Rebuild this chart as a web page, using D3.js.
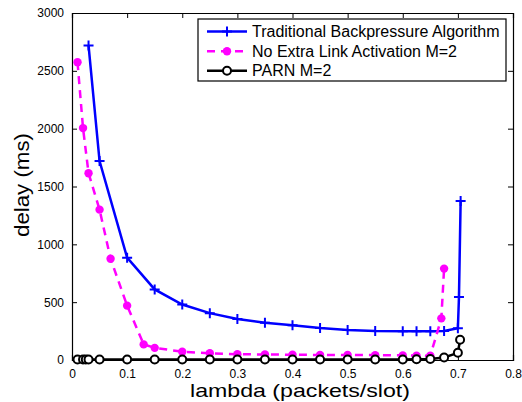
<!DOCTYPE html>
<html>
<head>
<meta charset="utf-8">
<script src="https://cdn.jsdelivr.net/npm/d3@7"></script>
<style>
  body { margin: 0; background: #fff; }
  svg { display: block; font-family: "Liberation Sans", Arial, sans-serif; }
</style>
</head>
<body>
<div id="chart"></div>
<script>
// delay vs lambda data
var tradLambda = [0.03, 0.05, 0.1, 0.15, 0.2, 0.25, 0.3, 0.35, 0.4, 0.45, 0.5, 0.55, 0.6, 0.625, 0.65, 0.675, 0.7, 0.702, 0.705];
var tradDelay  = [2720, 1720, 885, 610, 480, 405, 355, 323, 300, 277, 260, 250, 248, 248, 248, 250, 275, 545, 1375];

var noExtraLambda = [0.01, 0.02, 0.03, 0.05, 0.07, 0.1, 0.13, 0.15, 0.2, 0.25, 0.3, 0.35, 0.4, 0.45, 0.5, 0.55, 0.6, 0.625, 0.65, 0.67, 0.675];
var noExtraDelay  = [2575, 2005, 1615, 1300, 875, 470, 135, 105, 72, 58, 50, 48, 45, 44, 43, 42, 40, 38, 37, 360, 790];

var parnLambda = [0.01, 0.02, 0.025, 0.03, 0.05, 0.1, 0.15, 0.2, 0.25, 0.3, 0.35, 0.4, 0.45, 0.5, 0.55, 0.6, 0.625, 0.65, 0.675, 0.7, 0.704];
var parnDelay  = [5, 5, 5, 5, 5, 5, 5, 5, 5, 5, 5, 5, 5, 5, 5, 5, 6, 8, 22, 62, 175];

var seriesNames = ["Traditional Backpressure Algorithm", "No Extra Link Activation M=2", "PARN M=2"];
var xTicks = [0, 0.1, 0.2, 0.3, 0.4, 0.5, 0.6, 0.7, 0.8];
var yTicks = [0, 500, 1000, 1500, 2000, 2500, 3000];

var fullWidth = 522, fullHeight = 402;
var margin = {top: 13, right: 9, bottom: 42, left: 72};
var width = fullWidth - margin.left - margin.right;
var height = fullHeight - margin.top - margin.bottom;

var x = d3.scaleLinear().domain([0, 0.8]).range([0, width]);
var y = d3.scaleLinear().domain([0, 3000]).range([height, 0]);

var svg = d3.select("#chart").append("svg")
  .attr("width", fullWidth)
  .attr("height", fullHeight);

var g = svg.append("g")
  .attr("transform", "translate(" + margin.left + "," + margin.top + ")");

// axes, ticks pointing inward
var xFmt = function(d) { return d === 0 ? "0" : d3.format(".1f")(d); };
g.append("g")
  .attr("transform", "translate(0," + height + ")")
  .call(d3.axisBottom(x).tickValues(xTicks).tickSize(-5).tickPadding(9).tickFormat(xFmt));
g.append("g")
  .call(d3.axisTop(x).tickValues(xTicks).tickSize(-5).tickFormat(""));
g.append("g")
  .call(d3.axisLeft(y).tickValues(yTicks).tickSize(-5).tickPadding(8).tickFormat(d3.format("d")));
g.append("g")
  .attr("transform", "translate(" + width + ",0)")
  .call(d3.axisRight(y).tickValues(yTicks).tickSize(-5).tickFormat(""));

g.selectAll(".domain").attr("stroke", "#000").attr("stroke-width", 1.2);
g.selectAll(".tick line").attr("stroke", "#000");
g.selectAll(".tick text").attr("font-size", 12).attr("fill", "#000")
  .attr("font-family", "Liberation Sans, Arial, sans-serif");

var line = d3.line()
  .x(function(d) { return x(d[0]); })
  .y(function(d) { return y(d[1]); });

var trad = d3.zip(tradLambda, tradDelay);
var noExtra = d3.zip(noExtraLambda, noExtraDelay);
var parn = d3.zip(parnLambda, parnDelay);

function plusPath(s) {
  return "M" + (-s) + ",0H" + s + "M0," + (-s) + "V" + s;
}

// traditional backpressure
g.append("path").datum(trad)
  .attr("fill", "none").attr("stroke", "#0000ff").attr("stroke-width", 2.5)
  .attr("d", line);
g.selectAll(".trad").data(trad).enter().append("path")
  .attr("transform", function(d) { return "translate(" + x(d[0]) + "," + y(d[1]) + ")"; })
  .attr("d", plusPath(5))
  .attr("stroke", "#0000ff").attr("stroke-width", 2);

// no extra link activation
g.append("path").datum(noExtra)
  .attr("fill", "none").attr("stroke", "#ff00ff").attr("stroke-width", 2.5)
  .attr("stroke-dasharray", "8,6")
  .attr("d", line);
g.selectAll(".noext").data(noExtra).enter().append("circle")
  .attr("cx", function(d) { return x(d[0]); })
  .attr("cy", function(d) { return y(d[1]); })
  .attr("r", 4.2)
  .attr("fill", "#ff00ff");

// PARN
g.append("path").datum(parn)
  .attr("fill", "none").attr("stroke", "#000").attr("stroke-width", 2.5)
  .attr("d", line);
g.selectAll(".parn").data(parn).enter().append("circle")
  .attr("cx", function(d) { return x(d[0]); })
  .attr("cy", function(d) { return y(d[1]); })
  .attr("r", 4)
  .attr("fill", "#fff")
  .attr("stroke", "#000").attr("stroke-width", 2);

// legend
var legend = svg.append("g").attr("transform", "translate(198,19)");
legend.append("rect")
  .attr("width", 308).attr("height", 62)
  .attr("fill", "#fff").attr("stroke", "#000").attr("stroke-width", 1.2);

var rowY = [12.5, 32.3, 51.7];
var colors = ["#0000ff", "#ff00ff", "#000"];
seriesNames.forEach(function(name, i) {
  var row = legend.append("g").attr("transform", "translate(0," + rowY[i] + ")");
  row.append("line")
    .attr("x1", 9).attr("x2", 49)
    .attr("stroke", colors[i]).attr("stroke-width", 2.5)
    .attr("stroke-dasharray", i === 1 ? "8,6" : null);
  if (i === 0) {
    row.append("path").attr("transform", "translate(29,0)")
      .attr("d", plusPath(5)).attr("stroke", colors[i]).attr("stroke-width", 2);
  } else if (i === 1) {
    row.append("circle").attr("cx", 29).attr("r", 4.2).attr("fill", colors[i]);
  } else {
    row.append("circle").attr("cx", 29).attr("r", 4)
      .attr("fill", "#fff").attr("stroke", "#000").attr("stroke-width", 2);
  }
  row.append("text")
    .attr("x", 54).attr("dy", "0.36em")
    .attr("font-size", 16)
    .text(name);
});

// axis titles
svg.append("text")
  .attr("x", 190).attr("y", 397)
  .attr("font-size", 18.5)
  .attr("textLength", 220).attr("lengthAdjust", "spacingAndGlyphs")
  .text("lambda (packets/slot)");
svg.append("text")
  .attr("transform", "translate(29,237) rotate(-90)")
  .attr("font-size", 19.5)
  .attr("textLength", 104).attr("lengthAdjust", "spacingAndGlyphs")
  .text("delay (ms)");
</script>
</body>
</html>
